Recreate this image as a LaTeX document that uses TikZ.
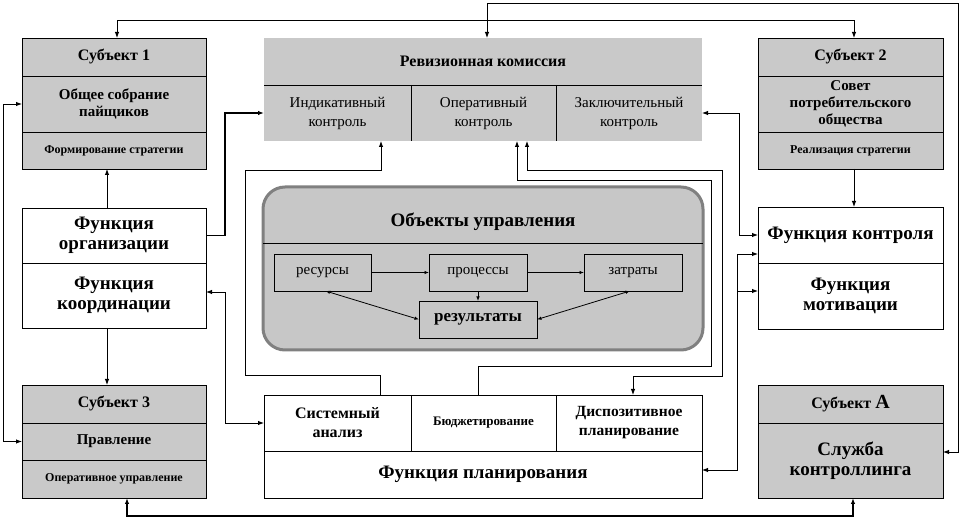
\documentclass[tikz,border=0pt]{standalone}
\usepackage{fontspec}
\setmainfont{Liberation Serif}
\usetikzlibrary{arrows.meta}
\newcommand\szB{\fontsize{19}{20.5}\selectfont\bfseries}
\newcommand\szS{\fontsize{16}{17}\selectfont\bfseries}
\newcommand\szM{\fontsize{15}{17}\selectfont\bfseries}
\newcommand\szT{\fontsize{12}{13}\selectfont\bfseries}
\newcommand\szN{\fontsize{15}{19}\selectfont}
\newcommand\szR{\fontsize{16}{17}\selectfont\bfseries}
\begin{document}
\begin{tikzpicture}[x=1pt,y=-1pt,
  every node/.style={inner sep=0pt,outer sep=0pt,align=center},
  cell/.style={draw=black,line width=0.9pt,fill=white},
  shd/.style={draw=black,line width=0.9pt,fill=black!21},
  plain/.style={fill=black!21},
  inbox/.style={draw=black,line width=0.9pt},
  ln/.style={line width=0.9pt},
  thk/.style={line width=1.8pt},
  sm/.style={line width=0.8pt,>={Latex[length=4.5pt,width=3.5pt]}},
  >={Latex[length=6pt,width=4.5pt]}
]
\useasboundingbox (0,0) rectangle (962,518);

% Subject 1
\node[shd,minimum width=184pt,minimum height=38pt,font=\szS] (s1a) at (114,57) {Субъект 1};
\node[shd,minimum width=184pt,minimum height=56pt,font=\szM] (s1b) at (114,104) {Общее собрание\\пайщиков};
\node[shd,minimum width=184pt,minimum height=37pt,font=\szT] (s1c) at (114,150.5) {Формирование стратегии};
% Functions organisation / coordination
\node[cell,minimum width=184pt,minimum height=55pt,font=\szB] (fo) at (114,235.5) {Функция\\организации};
\node[cell,minimum width=184pt,minimum height=65pt,font=\szB] (fc) at (114,295.5) {Функция\\координации};
% Subject 3
\node[shd,minimum width=184pt,minimum height=38pt,font=\szS] (s3a) at (114,404) {Субъект 3};
\node[shd,minimum width=184pt,minimum height=37pt,font=\szM] (s3b) at (114,441.5) {Правление};
\node[shd,minimum width=184pt,minimum height=38pt,font=\szT] (s3c) at (114,479) {Оперативное управление};
% Subject 2
\node[shd,minimum width=185pt,minimum height=38pt,font=\szS] (s2a) at (850.5,57) {Субъект 2};
\node[shd,minimum width=185pt,minimum height=56pt,font=\szM] (s2b) at (850.5,104) {Совет\\потребительского\\общества};
\node[shd,minimum width=185pt,minimum height=37pt,font=\szT] (s2c) at (850.5,150.5) {Реализация стратегии};
% Functions control / motivation
\node[cell,minimum width=185pt,minimum height=56pt,font=\szB] (fk) at (850.5,235) {Функция контроля};
\node[cell,minimum width=185pt,minimum height=66pt,font=\szB] (fm) at (850.5,296) {Функция\\мотивации};
% Subject A
\node[shd,minimum width=185pt,minimum height=38pt,font=\szS] (sa) at (850.5,404) {Субъект {\fontsize{20}{20}\selectfont А}};
\node[shd,minimum width=185pt,minimum height=75pt,font=\szB] (sb) at (850.5,460.5) {Служба\\контроллинга};

% Revision commission
\node[plain,minimum width=438pt,minimum height=47pt,font=\szR] (rev) at (483,61.5) {Ревизионная комиссия};
\node[plain,minimum width=147pt,minimum height=56pt,font=\szN] (r1) at (337.5,113) {Индикативный\\контроль};
\node[plain,minimum width=145pt,minimum height=56pt,font=\szN] (r2) at (483.5,113) {Оперативный\\контроль};
\node[plain,minimum width=146pt,minimum height=56pt,font=\szN] (r3) at (629,113) {Заключительный\\контроль};
\draw[ln] (r1.north west) -- (r3.north east);
\draw[ln] (r1.north east) -- (r1.south east);
\draw[ln] (r2.north east) -- (r2.south east);

% Objects of management
\node[draw=black!50,line width=3pt,fill=black!22,rounded corners=22pt,minimum width=440pt,minimum height=163pt] (obj) at (483,268.5) {};
\node[font=\szB] (objt) at (483,222) {Объекты управления};
\draw[ln] ([yshift=25.5pt]obj.west) -- ([yshift=25.5pt]obj.east);
\node[inbox,minimum width=97pt,minimum height=37pt,font=\szN] (res) at (322.5,272.5) {ресурсы};
\node[inbox,minimum width=98pt,minimum height=37pt,font=\szN] (pro) at (478,272.5) {процессы};
\node[inbox,minimum width=98pt,minimum height=37pt,font=\szN] (zat) at (633,272.5) {затраты};
\node[inbox,minimum width=118pt,minimum height=37pt,font=\fontsize{17}{19}\selectfont\bfseries] (rez) at (478,319.5) {результаты};
\draw[sm,->] (res.east) -- (pro.west);
\draw[sm,->] (pro.east) -- (zat.west);
\draw[sm,->] (pro.south) -- (rez.north);
\draw[sm,<->] ([xshift=3pt]res.south) -- (rez.west);
\draw[sm,<->] ([xshift=-3pt]zat.south) -- (rez.east);

% Planning
\node[cell,minimum width=147pt,minimum height=56pt,font=\fontsize{16}{19}\selectfont\bfseries] (p1) at (337.5,423) {Системный\\анализ};
\node[cell,minimum width=145pt,minimum height=56pt,font=\fontsize{13}{15}\selectfont\bfseries] (p2) at (483.5,423) {Бюджетирование};
\node[cell,minimum width=146pt,minimum height=56pt,font=\fontsize{15.5}{19}\selectfont\bfseries] (p3) at (629,423) {Диспозитивное\\планирование};
\node[cell,minimum width=438pt,minimum height=47pt,font=\szB] (pf) at (483,474.5) {Функция планирования};

% Connectors
\coordinate (kR) at (958,452);
\coordinate (w7) at (245,170);
\coordinate (w9) at (711,180);
\coordinate (w10) at (722,170);
\coordinate (j13) at (737,291);
\draw[ln,<->] ([xshift=3pt]s1a.north) -- ++(0,-18) -| ([xshift=3.5pt]s2a.north);
\draw[ln,<->] ([xshift=4pt]rev.north) -- ++(0,-35) -| (kR) -- ([yshift=8.5pt]sb.east);
\draw[ln,<->] (s1b.west) -- ++(-19,0) |- (s3b.west);
\draw[ln,->] ([xshift=-7pt]fo.north) -- ([xshift=-7pt]s1c.south);
\draw[ln,->] ([xshift=-7pt]fc.south) -- ([xshift=-7pt]s3a.north);
\draw[thk,->] (fo.east) -- ++(19,0) |- (r1.west);
\draw[ln,->] ([xshift=42.5pt]p1.north) -- ++(0,-20) -| (w7) -| ([xshift=43.5pt]r1.south);
\draw[ln,<->] ([yshift=3.5pt]fc.east) -- ++(19,0) |- (p1.west);
\draw[ln,->] ([xshift=-5.5pt]p2.north) -- ++(0,-29) -| (w9) -| ([xshift=33.5pt]r2.south);
\draw[ln,<->] ([xshift=4pt]p3.north) -- ++(0,-19) -| (w10) -| ([xshift=43.5pt]r2.south);
\draw[ln,<->] (r3.east) -- ++(37,0) |- (fk.west);
\draw[ln,->] ([xshift=3.5pt]s2c.south) -- ([xshift=3.5pt]fk.north);
\draw[ln,<->] ([yshift=4.5pt]pf.east) -- ++(35,0) |- ([yshift=-19pt]fk.west);
\draw[ln,->] (j13) -- ([yshift=5pt]fm.west);
\draw[thk,<->] ([xshift=13pt]s3c.south) -- ++(0,18) -| ([xshift=2.5pt]sb.south);
\end{tikzpicture}
\end{document}
